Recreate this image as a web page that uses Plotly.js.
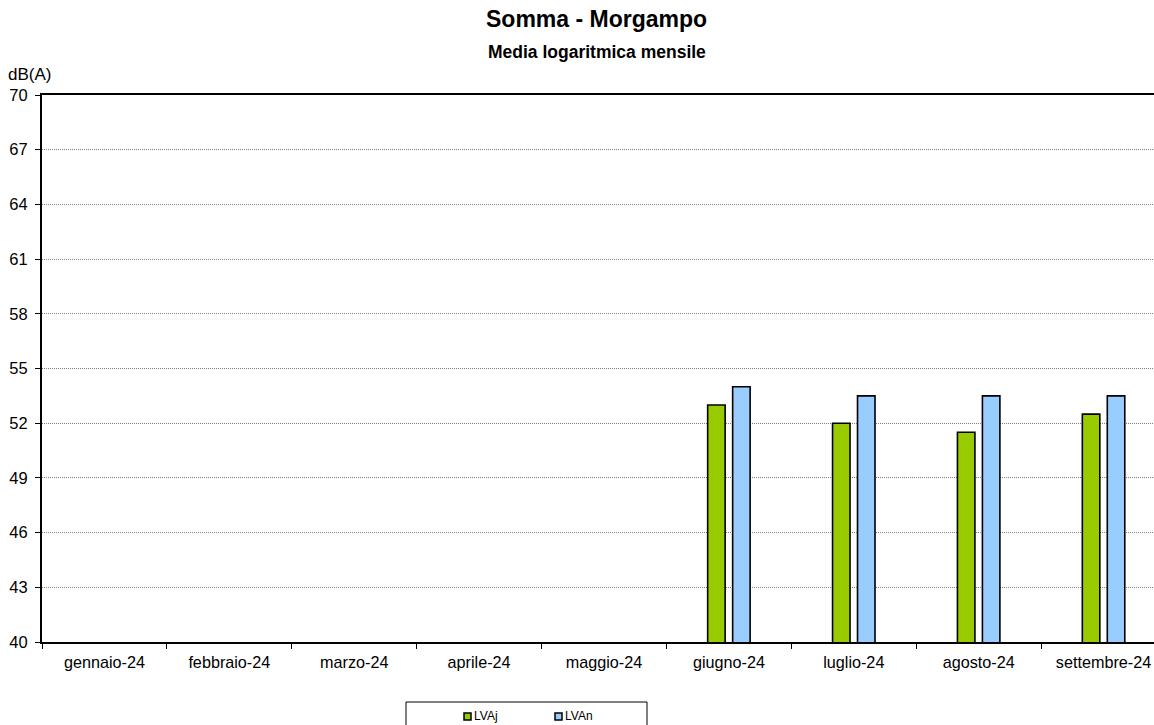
<!DOCTYPE html>
<html>
<head>
<meta charset="utf-8">
<script src="https://cdn.plot.ly/plotly-3.0.1.min.js"></script>
<style>
html,body{margin:0;padding:0;overflow:hidden;background:#fff;}
#chart{width:1166px;height:740px;}
</style>
</head>
<body>
<div id="chart"></div>
<script>
const months = ["gennaio-24","febbraio-24","marzo-24","aprile-24","maggio-24","giugno-24","luglio-24","agosto-24","settembre-24"];
const lvaj = [null,null,null,null,null,53.0,52.0,51.5,52.5];
const lvan = [null,null,null,null,null,54.0,53.5,53.5,53.5];
const yTicks = [40,43,46,49,52,55,58,61,64,67,70];

const FONT = "Liberation Sans, Arial, sans-serif";
const W = 1166, H = 740;
const mL = 42, mR = 0, mT = 95, mB = H - 642;
const pw = W - mL - mR, ph = H - mT - mB;
const px = x => (x - mL) / pw;
const py = y => (H - mB - y) / ph;

const traces = [
  {type:"bar", name:"LVAj", x:months, y:lvaj, marker:{color:"#99CC00", line:{color:"#000", width:1.6}}, showlegend:false},
  {type:"bar", name:"LVAn", x:months, y:lvan, marker:{color:"#99CCFF", line:{color:"#000", width:1.6}}, showlegend:false}
];

const layout = {
  width: W, height: H,
  margin:{l:mL, r:mR, t:mT, b:mB, pad:0},
  paper_bgcolor:"#fff", plot_bgcolor:"#fff",
  font:{family:FONT, color:"#000", size:16},
  barmode:"group", bargap:0.6, bargroupgap:0.3,
  showlegend:false,
  xaxis:{type:"category", range:[-0.5,8.5], tickson:"boundaries", ticks:"outside", ticklen:5, tickcolor:"#000",
    showline:true, linecolor:"#000", linewidth:2, mirror:true, showgrid:false, tickfont:{size:16.2, family:FONT},
    ticklabelstandoff:5, fixedrange:true},
  yaxis:{range:[40,70], tickvals:yTicks, ticks:"outside", ticklen:5, tickcolor:"#000",
    showline:true, linecolor:"#000", linewidth:2, showgrid:true, gridcolor:"#808080", griddash:"1px,1px", gridwidth:1,
    zeroline:false, tickfont:{size:16.5, family:FONT}, ticklabelstandoff:4, fixedrange:true},
  annotations:[
    {text:"<b>Somma - Morgampo</b>", xref:"paper", yref:"paper", x:px(596), y:py(19), xanchor:"center", yanchor:"middle", showarrow:false, font:{size:23, family:FONT}},
    {text:"<b>Media logaritmica mensile</b>", xref:"paper", yref:"paper", x:px(597), y:py(52), xanchor:"center", yanchor:"middle", showarrow:false, font:{size:17.5, family:FONT}},
    {text:"dB(A)", xref:"paper", yref:"paper", x:px(6), y:py(74), xanchor:"left", yanchor:"middle", showarrow:false, font:{size:17, family:FONT}},
    {text:"LVAj", xref:"paper", yref:"paper", x:px(472), y:py(716), xanchor:"left", yanchor:"middle", showarrow:false, font:{size:12, family:FONT}},
    {text:"LVAn", xref:"paper", yref:"paper", x:px(563), y:py(716), xanchor:"left", yanchor:"middle", showarrow:false, font:{size:12, family:FONT}}
  ],
  shapes:[
    {type:"rect", xref:"paper", yref:"paper", x0:px(406), x1:px(647), y0:py(702), y1:py(738), line:{color:"#000", width:1}, fillcolor:"#fff"},
    {type:"rect", xref:"paper", yref:"paper", x0:px(464), x1:px(471), y0:py(713), y1:py(720), line:{color:"#000", width:1.5}, fillcolor:"#99CC00"},
    {type:"rect", xref:"paper", yref:"paper", x0:px(555), x1:px(562), y0:py(713), y1:py(720), line:{color:"#000", width:1.5}, fillcolor:"#99CCFF"}
  ]
};

Plotly.newPlot("chart", traces, layout, {displayModeBar:false, staticPlot:true});
</script>
</body>
</html>
